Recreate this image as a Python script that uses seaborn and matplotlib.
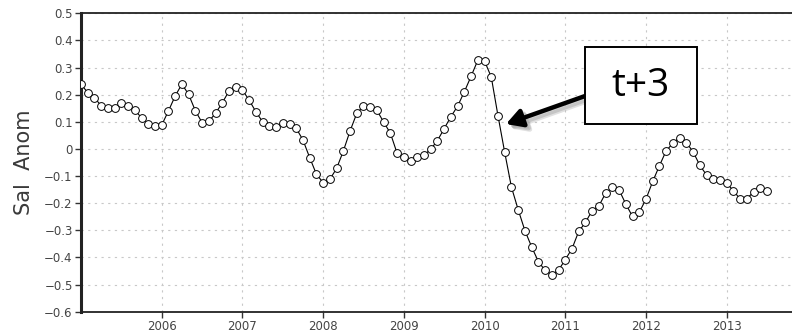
import numpy as np
import pandas as pd
import matplotlib
matplotlib.use("Agg")
import matplotlib.pyplot as plt
from matplotlib.patches import Rectangle
import seaborn as sns

# ---- data (monthly salinity anomaly, Jan 2005 .. Jul 2013) ----
start_month = "2005-01"
end_month = "2013-07"
sal_anom = [
    0.238, 0.208, 0.189, 0.159, 0.150, 0.150, 0.168, 0.159, 0.143, 0.115, 0.092, 0.085,   # 2005
    0.088, 0.140, 0.195, 0.239, 0.201, 0.141, 0.097, 0.102, 0.131, 0.170, 0.213, 0.230,   # 2006
    0.217, 0.180, 0.137, 0.100, 0.085, 0.082, 0.097, 0.092, 0.076, 0.033, -0.032, -0.093, # 2007
    -0.124, -0.112, -0.072, -0.008, 0.066, 0.131, 0.158, 0.155, 0.142, 0.099, 0.058, -0.016, # 2008
    -0.031, -0.044, -0.028, -0.023, -0.001, 0.031, 0.075, 0.119, 0.158, 0.211, 0.268, 0.327, # 2009
    0.324, 0.265, 0.122, -0.013, -0.141, -0.224, -0.301, -0.361, -0.415, -0.448, -0.463, -0.447, # 2010
    -0.408, -0.368, -0.304, -0.271, -0.227, -0.210, -0.163, -0.142, -0.151, -0.203, -0.249, -0.234, # 2011
    -0.185, -0.120, -0.062, -0.007, 0.021, 0.042, 0.023, -0.010, -0.060, -0.096, -0.111, -0.116, # 2012
    -0.126, -0.154, -0.185, -0.183, -0.159, -0.145, -0.154,                                # 2013
]
year_ticks = [2006, 2007, 2008, 2009, 2010, 2011, 2012, 2013]
y_ticks = [0.5, 0.4, 0.3, 0.2, 0.1, 0.0, -0.1, -0.2, -0.3, -0.4, -0.5, -0.6]
y_ticklabels = ["0.5", "0.4", "0.3", "0.2", "0.1", "0", "\u22120.1", "\u22120.2",
                "\u22120.3", "\u22120.4", "\u22120.5", "\u22120.6"]
ylabel = "Sal  Anom"
annot_text = "t+3"

months = pd.date_range(start_month, end_month, freq="MS")
df = pd.DataFrame({
    "time": months.year + (months.month - 1) / 12.0,
    "sal": sal_anom,
})

sns.set_theme(style="white")
plt.rcParams["font.family"] = ["DejaVu Sans"]

fig = plt.figure(figsize=(7.92, 3.34), dpi=100)
ax = fig.add_axes([81 / 792, (334 - 311.7) / 334, 711 / 792, 298.4 / 334])

sns.lineplot(data=df, x="time", y="sal", ax=ax, color="black", linewidth=0.8,
             marker="o", markersize=5.6, markerfacecolor="white",
             markeredgecolor="black", markeredgewidth=0.7, zorder=3)

ax.set_xlim(2005.0, 2005.0 + 711 / 80.71)
ax.set_ylim(-0.6, 0.5)
ax.set_xticks(year_ticks)
ax.set_xticklabels([str(y) for y in year_ticks])
ax.set_yticks(y_ticks)
ax.set_yticklabels(y_ticklabels)

ax.grid(True, color="#c8c8c8", linestyle=(0, (2, 4)), linewidth=0.8)
ax.set_axisbelow(True)

ax.tick_params(axis="both", which="both", direction="out", length=4, width=1,
               color="#333333", labelsize=8.5, labelcolor="#444444", pad=2,
               left=True, bottom=True)
ax.set_xlabel("")
ax.set_ylabel(ylabel, fontsize=15, color="#3a3a3a", labelpad=7)

for s in ["left"]:
    ax.spines[s].set_color("#222222")
    ax.spines[s].set_linewidth(2.2)
for s in ["top", "bottom"]:
    ax.spines[s].set_color("#222222")
    ax.spines[s].set_linewidth(1.3)
    ax.spines[s].set_linestyle((0, (5, 1)))
ax.spines["right"].set_visible(False)

# annotation box and arrow
head = (2005.0 + (506 - 81) / 80.71, (148.9 - 124) / 271.3)
tail = (2005.0 + (585 - 81) / 80.71, (148.9 - 96) / 271.3)
# soft shadow
for dx, dy, a in [(0.05, -0.016, 0.35), (0.035, -0.011, 0.5)]:
    ax.annotate("", xy=(head[0] + dx, head[1] + dy), xytext=(tail[0] + dx, tail[1] + dy),
                arrowprops=dict(arrowstyle="-|>,head_length=0.8,head_width=0.45",
                                color="#aaaaaa", lw=3.5, alpha=a, shrinkA=0, shrinkB=0),
                zorder=4)
ax.annotate("", xy=head, xytext=tail,
            arrowprops=dict(arrowstyle="-|>,head_length=0.8,head_width=0.45",
                            color="black", lw=3.2, shrinkA=0, shrinkB=0), zorder=5)

box = Rectangle((584.5 / 792, (334 - 124.3) / 334), 112 / 792, 77.6 / 334,
                transform=fig.transFigure, facecolor="white", edgecolor="black",
                linewidth=1.4, zorder=6)
fig.patches.append(box)
fig.text(640.5 / 792, (334 - 86) / 334, annot_text, ha="center", va="center",
         fontsize=28, color="black", family=["Open Sans", "DejaVu Sans"], zorder=7)

fig.savefig("out.png", dpi=100)
